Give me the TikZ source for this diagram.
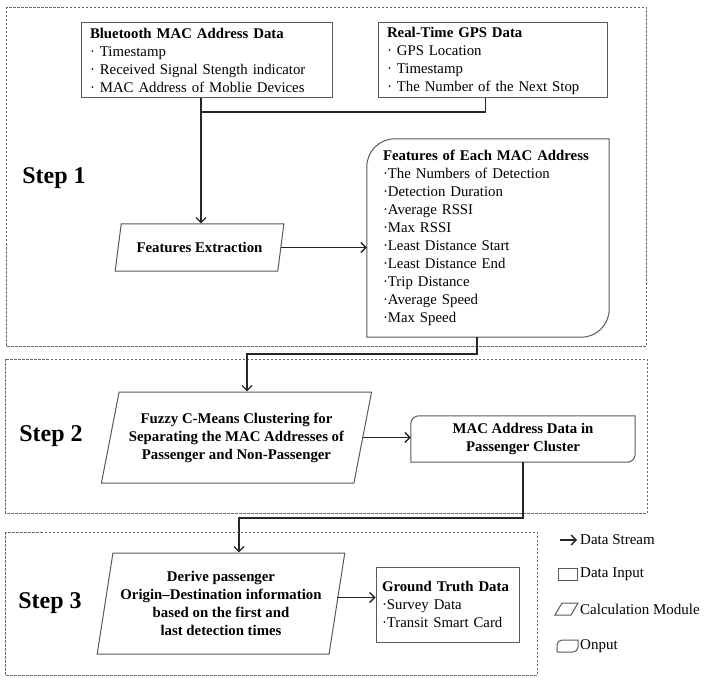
\documentclass[tikz,border=0pt]{standalone}
\usepackage{fontspec}
\setmainfont{Liberation Serif}
\usetikzlibrary{arrows.meta, shapes.geometric}

\begin{document}
\begin{tikzpicture}[x=1pt,y=-1pt,
  txt/.style={font=\fontsize{14.8}{18}\selectfont},
  boxline/.style={draw=black!65, line width=1pt},
  databox/.style={boxline, txt, align=left, inner ysep=0pt},
  outbox/.style={txt, inner ysep=0pt},
  calcbox/.style={trapezium, trapezium stretches=true, boxline,
    font=\fontsize{14.8}{18}\selectfont\bfseries, align=center},
  frame/.style={draw=black!60, line width=0.8pt, dash pattern=on 2.5pt off 1.5pt},
  conn/.style={draw=black!85, line width=1.4pt},
  flow/.style={conn, -{Straight Barb[length=5pt,width=10pt]}},
  steplabel/.style={font=\fontsize{24}{28}\selectfont\bfseries},
  keytxt/.style={font=\fontsize{15}{18}\selectfont, anchor=west, inner sep=0pt}
]
\useasboundingbox (0,0) rectangle (708,684);
%\draw[step=50,gray,very thin] (0,0) grid (708,684); %background grid
%---------------------------------------------------
\draw[frame] (6,7) rectangle (646,346);
\draw[frame] (5,359) rectangle (647,513);
\draw[frame] (5,532) rectangle (537,675);
\node[steplabel] (s1) at (54,178) {Step 1};
\node[steplabel] (s2) at (51,436) {Step 2};
\node[steplabel] (s3) at (50,603) {Step 3};
%--------------------------------------------------- step 1
\node[databox, minimum width=251, minimum height=75, text width=233, inner xsep=9] (bt) at (206.5,60.5)
  {\textbf{Bluetooth MAC Address Data}\\· Timestamp\\· Received Signal Stength indicator\\· MAC Address of Moblie Devices};
\node[databox, minimum width=229, minimum height=75, text width=211, inner xsep=9] (gps) at (492.5,60.5)
  {\textbf{Real-Time GPS Data}\\· GPS Location\\· Timestamp\\· The Number of the Next Stop};
\node[calcbox, trapezium left angle=73.4, trapezium right angle=106.6, minimum width=169, minimum height=47] (ext) at (199.5,247.5)
  {Features Extraction};
\node[outbox, minimum width=242, minimum height=198, text width=210, inner xsep=16, align=left] (feat) at (488,238)
  {\textbf{Features of Each MAC Address}\\·The Numbers of Detection\\·Detection Duration\\·Average RSSI\\·Max RSSI\\%
   ·Least Distance Start\\·Least Distance End\\·Trip Distance\\·Average Speed\\·Max Speed};
\draw[boxline] (feat.south west) -- ([yshift=-28pt]feat.north west) arc[start angle=180, end angle=90, radius=28pt]
  -- (feat.north east) -- ([yshift=28pt]feat.south east) arc[start angle=0, end angle=-90, radius=28pt] -- cycle;
\coordinate (merge) at (201,112);
\draw[conn] ([xshift=-7pt]gps.south) |- (merge);
\draw[flow] (merge |- bt.south) -- (merge |- ext.north);
\draw[flow] (ext.east) -- (ext.east -| feat.west);
%--------------------------------------------------- step 2
\node[calcbox, trapezium left angle=73.5, trapezium right angle=106.5, minimum width=271, minimum height=91] (fcm) at (236.5,437.5)
  {Fuzzy C-Means Clustering for\\Separating the MAC Addresses of\\Passenger and Non-Passenger};
\node[outbox, minimum width=224, minimum height=46, align=center, font=\fontsize{14.8}{18}\selectfont\bfseries] (mac) at (523,439)
  {MAC Address Data in\\Passenger Cluster};
\draw[boxline] (mac.south west) -- ([yshift=-8pt]mac.north west) arc[start angle=180, end angle=90, radius=8pt]
  -- (mac.north east) -- ([yshift=8pt]mac.south east) arc[start angle=0, end angle=-90, radius=8pt] -- cycle;
\coordinate (bend2) at (247,354);
\draw[flow] ([xshift=-11pt]feat.south) |- (bend2) -- (bend2 |- fcm.north);
\draw[flow] (fcm.east) -- (fcm.east -| mac.west);
%--------------------------------------------------- step 3
\node[calcbox, trapezium left angle=78, trapezium right angle=102, minimum width=248, minimum height=101] (od) at (221,603.5)
  {Derive passenger\\Origin–Destination information\\based on the first and\\last detection times};
\node[databox, minimum width=143, minimum height=75, text width=131, inner xsep=6] (gt) at (447.5,604.5)
  {\textbf{Ground Truth Data}\\·Survey Data\\·Transit Smart Card};
\coordinate (bend3) at (239,518);
\draw[flow] (mac.south) |- (bend3) -- (bend3 |- od.north);
\draw[flow] ([yshift=6pt]od.east) -- ([yshift=6pt]od.east -| gt.west);
%--------------------------------------------------- legend
\node[keytxt] (kstream) at (580,540) {Data Stream};
\node[keytxt] (kinput) at (580,574) {Data Input};
\node[keytxt] (kcalc) at (580,609) {Calculation Module};
\node[keytxt] (kout) at (580,646) {Onput};
\draw[flow] ([xshift=-20pt]kstream.west) -- ([xshift=-3pt]kstream.west);
\draw[boxline] (558,568) rectangle (577,580);
\draw[boxline] (555,615) -- (562,603) -- (578,603) -- (571,615) -- cycle;
\draw[boxline] (557,652) -- (557,645) arc[start angle=180, end angle=90, radius=5pt]
  -- (578,640) -- (578,647) arc[start angle=0, end angle=-90, radius=5pt] -- cycle;
\end{tikzpicture}
\end{document}
